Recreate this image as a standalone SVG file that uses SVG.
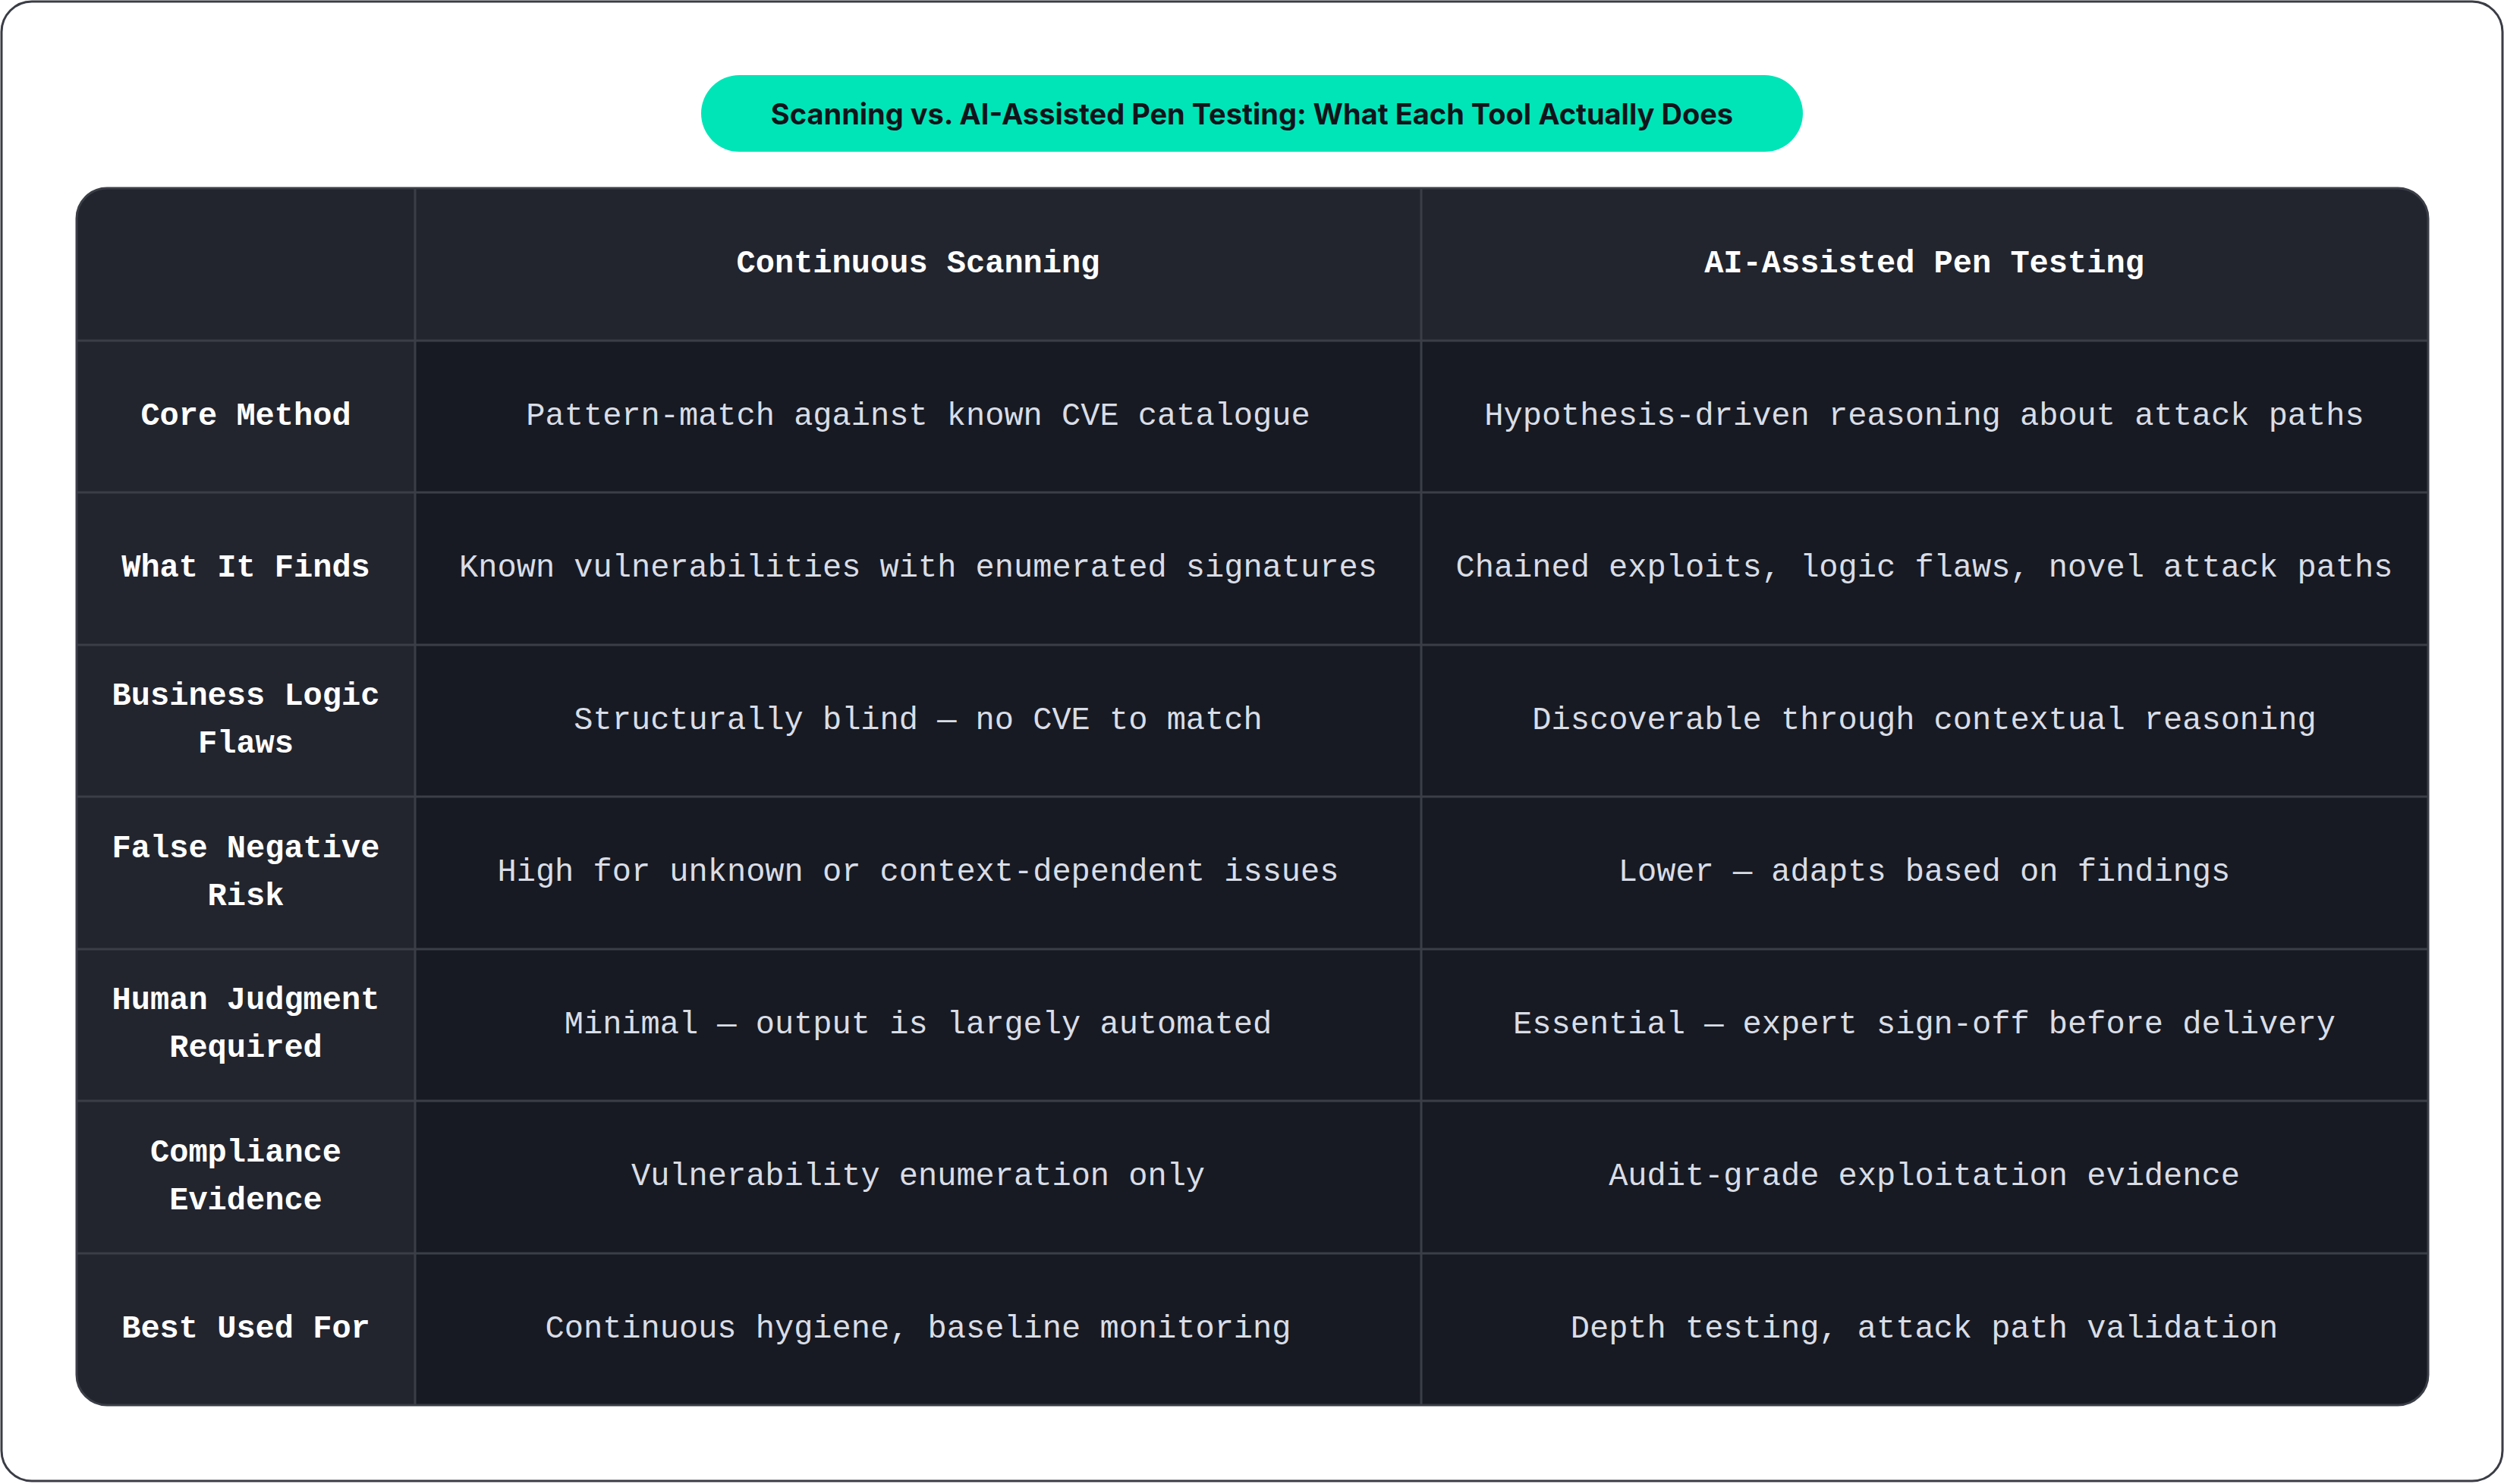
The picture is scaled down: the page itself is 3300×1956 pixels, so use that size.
<svg xmlns="http://www.w3.org/2000/svg" width="3300" height="1956" viewBox="0 0 3300 1956">
<style>
.t{font-family:"Liberation Mono","DejaVu Sans Mono",monospace;font-size:42px;dominant-baseline:central;text-anchor:middle}
.h{fill:#ffffff;font-weight:bold}
.b{fill:#d9dde6}
.g{stroke:#3b3e47;stroke-width:3;fill:none}
</style>
<defs><clipPath id="c"><rect x="101" y="248" width="3099" height="1604" rx="40"/></clipPath></defs>
<rect x="2" y="2" width="3296" height="1950" rx="40" fill="#ffffff" stroke="#3a3d45" stroke-width="3"/>
<g id="title">
<rect x="924" y="99" width="1452" height="101" rx="50.5" fill="#00e5b8"/>
<text x="1650" y="150" font-family="Inter,'Liberation Sans',sans-serif" font-size="38" font-weight="bold" fill="#11141b" text-anchor="middle" dominant-baseline="central">Scanning vs. AI-Assisted Pen Testing: What Each Tool Actually Does</text>
</g>
<g id="table" clip-path="url(#c)">
<rect x="101" y="248" width="3099" height="1604" fill="#171a22"/>
<rect x="101" y="248" width="3099" height="201" fill="#22252e"/>
<rect x="101" y="248" width="446" height="1604" fill="#22252e"/>
<g class="g">
<line x1="547" y1="248" x2="547" y2="1852"/>
<line x1="1873" y1="248" x2="1873" y2="1852"/>
<line x1="101" y1="449" x2="3200" y2="449"/>
<line x1="101" y1="649" x2="3200" y2="649"/>
<line x1="101" y1="850" x2="3200" y2="850"/>
<line x1="101" y1="1050" x2="3200" y2="1050"/>
<line x1="101" y1="1251" x2="3200" y2="1251"/>
<line x1="101" y1="1451" x2="3200" y2="1451"/>
<line x1="101" y1="1652" x2="3200" y2="1652"/>
</g>
</g>
<rect x="101" y="248" width="3099" height="1604" rx="40" class="g"/>
<g id="header">
<text class="t h" x="1210" y="348">Continuous Scanning</text>
<text class="t h" x="2536" y="348">AI-Assisted Pen Testing</text>
</g>
<g id="row1">
<text class="t h" x="324" y="549">Core Method</text>
<text class="t b" x="1210" y="549">Pattern-match against known CVE catalogue</text>
<text class="t b" x="2536" y="549">Hypothesis-driven reasoning about attack paths</text>
</g>
<g id="row2">
<text class="t h" x="324" y="749">What It Finds</text>
<text class="t b" x="1210" y="749">Known vulnerabilities with enumerated signatures</text>
<text class="t b" x="2536" y="749">Chained exploits, logic flaws, novel attack paths</text>
</g>
<g id="row3">
<text class="t h" x="324" y="918">Business Logic</text>
<text class="t h" x="324" y="981">Flaws</text>
<text class="t b" x="1210" y="950">Structurally blind — no CVE to match</text>
<text class="t b" x="2536" y="950">Discoverable through contextual reasoning</text>
</g>
<g id="row4">
<text class="t h" x="324" y="1119">False Negative</text>
<text class="t h" x="324" y="1182">Risk</text>
<text class="t b" x="1210" y="1150">High for unknown or context-dependent issues</text>
<text class="t b" x="2536" y="1150">Lower — adapts based on findings</text>
</g>
<g id="row5">
<text class="t h" x="324" y="1319">Human Judgment</text>
<text class="t h" x="324" y="1382">Required</text>
<text class="t b" x="1210" y="1351">Minimal — output is largely automated</text>
<text class="t b" x="2536" y="1351">Essential — expert sign-off before delivery</text>
</g>
<g id="row6">
<text class="t h" x="324" y="1520">Compliance</text>
<text class="t h" x="324" y="1583">Evidence</text>
<text class="t b" x="1210" y="1551">Vulnerability enumeration only</text>
<text class="t b" x="2536" y="1551">Audit-grade exploitation evidence</text>
</g>
<g id="row7">
<text class="t h" x="324" y="1752">Best Used For</text>
<text class="t b" x="1210" y="1752">Continuous hygiene, baseline monitoring</text>
<text class="t b" x="2536" y="1752">Depth testing, attack path validation</text>
</g>
</svg>
